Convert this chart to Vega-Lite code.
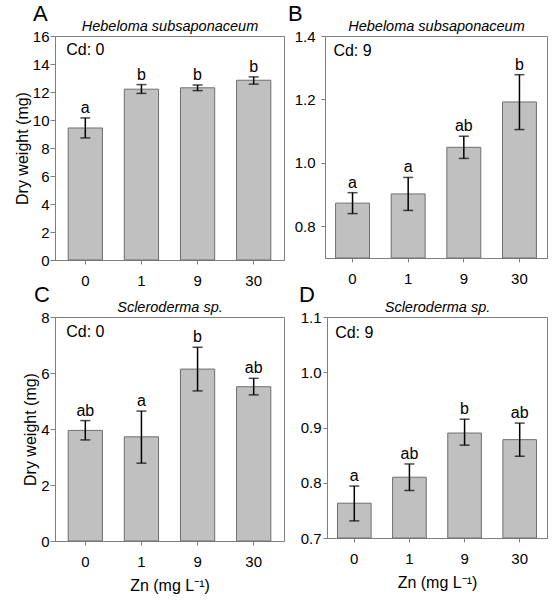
{
  "$schema": "https://vega.github.io/schema/vega-lite/v6.json",
  "padding": {"left": 13, "top": 2, "right": 5, "bottom": 5},
  "config": {
    "font": "Liberation Sans",
    "view": {"stroke": "#7f7f7f", "strokeWidth": 1},
    "axis": {"grid": false, "labelFont": "Liberation Sans", "labelFontSize": 15, "labelColor": "#000", "titleFont": "Liberation Sans", "titleFontSize": 16, "titleFontWeight": "normal", "titleColor": "#000", "domainColor": "#7f7f7f", "tickColor": "#7f7f7f"},
    "axisY": {"tickSize": 5, "labelPadding": 1, "titlePadding": 2},
    "axisX": {"tickSize": 4, "labelPadding": 9, "labelAngle": 0, "titlePadding": 8},
    "title": {"font": "Liberation Sans", "fontWeight": "normal", "color": "#000"},
    "concat": {"spacing": 10}
  },
  "datasets": {
    "A": [
      {"zn": "0", "mean": 9.43, "lower": 8.72, "upper": 10.15, "sig": "a"},
      {"zn": "1", "mean": 12.2, "lower": 11.9, "upper": 12.53, "sig": "b"},
      {"zn": "9", "mean": 12.3, "lower": 12.1, "upper": 12.5, "sig": "b"},
      {"zn": "30", "mean": 12.84, "lower": 12.56, "upper": 13.08, "sig": "b"}
    ],
    "B": [
      {"zn": "0", "mean": 0.873, "lower": 0.84, "upper": 0.906, "sig": "a"},
      {"zn": "1", "mean": 0.902, "lower": 0.85, "upper": 0.954, "sig": "a"},
      {"zn": "9", "mean": 1.049, "lower": 1.014, "upper": 1.084, "sig": "ab"},
      {"zn": "30", "mean": 1.192, "lower": 1.105, "upper": 1.278, "sig": "b"}
    ],
    "C": [
      {"zn": "0", "mean": 3.95, "lower": 3.61, "upper": 4.3, "sig": "ab"},
      {"zn": "1", "mean": 3.72, "lower": 2.78, "upper": 4.64, "sig": "a"},
      {"zn": "9", "mean": 6.14, "lower": 5.36, "upper": 6.92, "sig": "b"},
      {"zn": "30", "mean": 5.51, "lower": 5.22, "upper": 5.81, "sig": "ab"}
    ],
    "D": [
      {"zn": "0", "mean": 0.763, "lower": 0.731, "upper": 0.794, "sig": "a"},
      {"zn": "1", "mean": 0.81, "lower": 0.786, "upper": 0.834, "sig": "ab"},
      {"zn": "9", "mean": 0.89, "lower": 0.868, "upper": 0.915, "sig": "b"},
      {"zn": "30", "mean": 0.878, "lower": 0.848, "upper": 0.908, "sig": "ab"}
    ]
  },
  "vconcat": [
    {
      "spacing": 2,
      "hconcat": [
        {
          "width": 229, "height": 224,
          "title": {"text": "A", "anchor": "start", "frame": "group", "dx": -22, "fontSize": 22, "offset": -8},
          "data": {"name": "A"},
          "resolve": {"axis": {"x": "independent", "y": "independent"}},
          "layer": [
            {"mark": {"type": "bar", "fill": "#c0c0c0", "stroke": "#6e6e6e", "strokeWidth": 1},
             "encoding": {
               "x": {"field": "zn", "type": "ordinal", "sort": null, "scale": {"paddingInner": 0.39, "paddingOuter": 0.235}, "axis": {"title": null}},
               "y": {"field": "mean", "type": "quantitative", "scale": {"domain": [0, 16], "nice": false}, "axis": {"title": "Dry weight (mg)", "values": [0, 2, 4, 6, 8, 10, 12, 14, 16]}}
             }},
            {"mark": {"type": "rule", "color": "#000", "strokeWidth": 1.5},
             "encoding": {"x": {"field": "zn", "type": "ordinal", "sort": null, "axis": null}, "y": {"field": "lower", "type": "quantitative", "axis": null}, "y2": {"field": "upper"}}},
            {"mark": {"type": "tick", "color": "#000", "size": 10, "thickness": 1.5},
             "encoding": {"x": {"field": "zn", "type": "ordinal", "sort": null, "axis": null}, "y": {"field": "upper", "type": "quantitative", "axis": null}}},
            {"mark": {"type": "tick", "color": "#000", "size": 10, "thickness": 1.5},
             "encoding": {"x": {"field": "zn", "type": "ordinal", "sort": null, "axis": null}, "y": {"field": "lower", "type": "quantitative", "axis": null}}},
            {"mark": {"type": "text", "fontSize": 16, "baseline": "alphabetic", "dy": -5, "color": "#000"},
             "encoding": {
               "x": {"field": "zn", "type": "ordinal", "sort": null, "axis": {"orient": "top", "title": "Hebeloma subsaponaceum", "titleFontStyle": "italic", "titleFontSize": 14.5, "titlePadding": 3, "labels": false, "ticks": false, "domain": false}},
               "y": {"field": "upper", "type": "quantitative", "axis": null},
               "text": {"field": "sig"}
             }},
            {"data": {"values": [{"t": "Cd: 0"}]},
             "mark": {"type": "text", "fontSize": 16, "align": "center", "baseline": "middle", "color": "#000"},
             "encoding": {"x": {"datum": "0", "axis": null}, "y": {"datum": 15.0, "axis": null}, "text": {"field": "t"}}}
          ]
        },
        {
          "width": 222, "height": 222,
          "title": {"text": "B", "anchor": "start", "frame": "group", "dx": -37, "fontSize": 22, "offset": -8},
          "data": {"name": "B"},
          "resolve": {"axis": {"x": "independent", "y": "independent"}},
          "layer": [
            {"mark": {"type": "bar", "fill": "#c0c0c0", "stroke": "#6e6e6e", "strokeWidth": 1},
             "encoding": {
               "x": {"field": "zn", "type": "ordinal", "sort": null, "scale": {"paddingInner": 0.39, "paddingOuter": 0.19}, "axis": {"title": null}},
               "y": {"field": "mean", "type": "quantitative", "scale": {"domain": [0.7, 1.4], "nice": false, "zero": false}, "axis": {"title": null, "values": [0.8, 1.0, 1.2, 1.4], "format": ".1f", "tickSize": 4, "labelPadding": 6}},
               "y2": {"datum": 0.7}
             }},
            {"mark": {"type": "rule", "color": "#000", "strokeWidth": 1.5},
             "encoding": {"x": {"field": "zn", "type": "ordinal", "sort": null, "axis": null}, "y": {"field": "lower", "type": "quantitative", "axis": null}, "y2": {"field": "upper"}}},
            {"mark": {"type": "tick", "color": "#000", "size": 10, "thickness": 1.5},
             "encoding": {"x": {"field": "zn", "type": "ordinal", "sort": null, "axis": null}, "y": {"field": "upper", "type": "quantitative", "axis": null}}},
            {"mark": {"type": "tick", "color": "#000", "size": 10, "thickness": 1.5},
             "encoding": {"x": {"field": "zn", "type": "ordinal", "sort": null, "axis": null}, "y": {"field": "lower", "type": "quantitative", "axis": null}}},
            {"mark": {"type": "text", "fontSize": 16, "baseline": "alphabetic", "dy": -5, "color": "#000"},
             "encoding": {
               "x": {"field": "zn", "type": "ordinal", "sort": null, "axis": {"orient": "top", "title": "Hebeloma subsaponaceum", "titleFontStyle": "italic", "titleFontSize": 14.5, "titlePadding": 3, "labels": false, "ticks": false, "domain": false}},
               "y": {"field": "upper", "type": "quantitative", "axis": null},
               "text": {"field": "sig"}
             }},
            {"data": {"values": [{"t": "Cd: 9"}]},
             "mark": {"type": "text", "fontSize": 16, "align": "center", "baseline": "middle", "color": "#000"},
             "encoding": {"x": {"datum": "0", "axis": null}, "y": {"datum": 1.353, "axis": null}, "text": {"field": "t"}}}
          ]
        }
      ]
    },
    {
      "spacing": 13,
      "hconcat": [
        {
          "width": 229, "height": 224,
          "title": {"text": "C", "anchor": "start", "frame": "group", "dx": -21, "fontSize": 22, "offset": -8},
          "data": {"name": "C"},
          "resolve": {"axis": {"x": "independent", "y": "independent"}},
          "layer": [
            {"mark": {"type": "bar", "fill": "#c0c0c0", "stroke": "#6e6e6e", "strokeWidth": 1},
             "encoding": {
               "x": {"field": "zn", "type": "ordinal", "sort": null, "scale": {"paddingInner": 0.39, "paddingOuter": 0.235}, "axis": {"title": "Zn (mg L⁻¹)"}},
               "y": {"field": "mean", "type": "quantitative", "scale": {"domain": [0, 8], "nice": false}, "axis": {"title": "Dry weight (mg)", "values": [0, 2, 4, 6, 8]}}
             }},
            {"mark": {"type": "rule", "color": "#000", "strokeWidth": 1.5},
             "encoding": {"x": {"field": "zn", "type": "ordinal", "sort": null, "axis": null}, "y": {"field": "lower", "type": "quantitative", "axis": null}, "y2": {"field": "upper"}}},
            {"mark": {"type": "tick", "color": "#000", "size": 10, "thickness": 1.5},
             "encoding": {"x": {"field": "zn", "type": "ordinal", "sort": null, "axis": null}, "y": {"field": "upper", "type": "quantitative", "axis": null}}},
            {"mark": {"type": "tick", "color": "#000", "size": 10, "thickness": 1.5},
             "encoding": {"x": {"field": "zn", "type": "ordinal", "sort": null, "axis": null}, "y": {"field": "lower", "type": "quantitative", "axis": null}}},
            {"mark": {"type": "text", "fontSize": 16, "baseline": "alphabetic", "dy": -5, "color": "#000"},
             "encoding": {
               "x": {"field": "zn", "type": "ordinal", "sort": null, "axis": {"orient": "top", "title": "Scleroderma sp.", "titleFontStyle": "italic", "titleFontSize": 14.5, "titlePadding": 3, "labels": false, "ticks": false, "domain": false}},
               "y": {"field": "upper", "type": "quantitative", "axis": null},
               "text": {"field": "sig"}
             }},
            {"data": {"values": [{"t": "Cd: 0"}]},
             "mark": {"type": "text", "fontSize": 16, "align": "center", "baseline": "middle", "color": "#000"},
             "encoding": {"x": {"datum": "0", "axis": null}, "y": {"datum": 7.45, "axis": null}, "text": {"field": "t"}}}
          ]
        },
        {
          "width": 220, "height": 221,
          "title": {"text": "D", "anchor": "start", "frame": "group", "dx": -28, "fontSize": 22, "offset": -8},
          "data": {"name": "D"},
          "resolve": {"axis": {"x": "independent", "y": "independent"}},
          "layer": [
            {"mark": {"type": "bar", "fill": "#c0c0c0", "stroke": "#6e6e6e", "strokeWidth": 1},
             "encoding": {
               "x": {"field": "zn", "type": "ordinal", "sort": null, "scale": {"paddingInner": 0.39, "paddingOuter": 0.19}, "axis": {"title": "Zn (mg L⁻¹)"}},
               "y": {"field": "mean", "type": "quantitative", "scale": {"domain": [0.7, 1.1], "nice": false, "zero": false}, "axis": {"title": null, "values": [0.7, 0.8, 0.9, 1.0, 1.1], "format": ".1f", "tickSize": 4, "labelPadding": 2}},
               "y2": {"datum": 0.7}
             }},
            {"mark": {"type": "rule", "color": "#000", "strokeWidth": 1.5},
             "encoding": {"x": {"field": "zn", "type": "ordinal", "sort": null, "axis": null}, "y": {"field": "lower", "type": "quantitative", "axis": null}, "y2": {"field": "upper"}}},
            {"mark": {"type": "tick", "color": "#000", "size": 10, "thickness": 1.5},
             "encoding": {"x": {"field": "zn", "type": "ordinal", "sort": null, "axis": null}, "y": {"field": "upper", "type": "quantitative", "axis": null}}},
            {"mark": {"type": "tick", "color": "#000", "size": 10, "thickness": 1.5},
             "encoding": {"x": {"field": "zn", "type": "ordinal", "sort": null, "axis": null}, "y": {"field": "lower", "type": "quantitative", "axis": null}}},
            {"mark": {"type": "text", "fontSize": 16, "baseline": "alphabetic", "dy": -5, "color": "#000"},
             "encoding": {
               "x": {"field": "zn", "type": "ordinal", "sort": null, "axis": {"orient": "top", "title": "Scleroderma sp.", "titleFontStyle": "italic", "titleFontSize": 14.5, "titlePadding": 3, "labels": false, "ticks": false, "domain": false}},
               "y": {"field": "upper", "type": "quantitative", "axis": null},
               "text": {"field": "sig"}
             }},
            {"data": {"values": [{"t": "Cd: 9"}]},
             "mark": {"type": "text", "fontSize": 16, "align": "center", "baseline": "middle", "color": "#000"},
             "encoding": {"x": {"datum": "0", "axis": null}, "y": {"datum": 1.071, "axis": null}, "text": {"field": "t"}}}
          ]
        }
      ]
    }
  ],
  "spacing": -6
}
